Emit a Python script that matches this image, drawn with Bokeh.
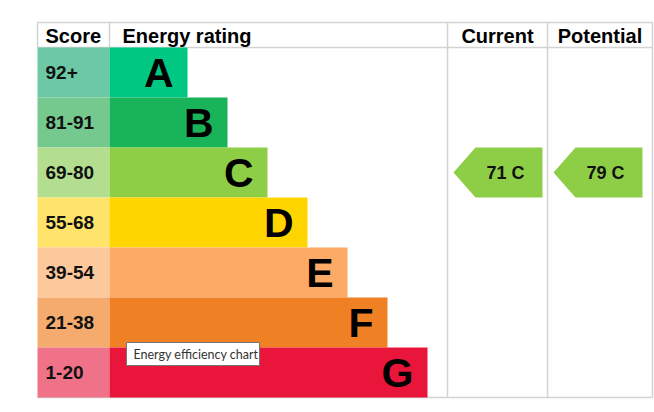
from bokeh.plotting import figure
from bokeh.models import Range1d, ColumnDataSource
from bokeh.core.properties import value
from bokeh.embed import file_html
from bokeh.resources import INLINE

# ---- data ----
ratings = ["A", "B", "C", "D", "E", "F", "G"]
score_labels = ["92+", "81-91", "69-80", "55-68", "39-54", "21-38", "1-20"]
band_min = [92, 81, 69, 55, 39, 21, 1]
bar_colors = ["#00c781", "#19b459", "#8dce46", "#ffd500", "#fcaa65", "#ef8023", "#e9153b"]
score_colors = ["#6dc9a5", "#75c98f", "#b3de8f", "#ffe36b", "#fdc89c", "#f5ab6e", "#f07289"]
headers = ["Score", "Energy rating", "Current", "Potential"]
current_score = 71
potential_score = 79

# ---- layout (pixels) ----
W, H = 654, 404
LEFT, TOP = 37, 22
HEAD_H, ROW_H = 25, 50
SCORE_W = 72
BAR_BASE, BAR_STEP = 78, 40
COL_CUR, COL_POT, RIGHT = 447, 547, 652
FONT = "Liberation Sans"
GRID = "#d3d3d3"

def band_index(score):
    for i, m in enumerate(band_min):
        if score >= m:
            return i
    return len(band_min) - 1

p = figure(width=W, height=H, output_backend="svg", toolbar_location=None,
           x_range=Range1d(0, W), y_range=Range1d(H, 0),
           x_axis_type=None, y_axis_type=None, min_border=0,
           outline_line_color=None)
p.grid.visible = False
p.background_fill_color = "white"
p.border_fill_color = "white"

n = len(ratings)
body_top = TOP + HEAD_H
bottom = body_top + n * ROW_H
score_right = LEFT + SCORE_W

# grid lines
x0s = [LEFT, LEFT, LEFT, LEFT, score_right, COL_CUR, COL_POT, RIGHT]
x1s = [RIGHT, RIGHT, RIGHT, LEFT, score_right, COL_CUR, COL_POT, RIGHT]
y0s = [TOP, body_top, bottom, TOP, TOP, TOP, TOP, TOP]
y1s = [TOP, body_top, bottom, body_top, body_top, bottom, bottom, bottom]
p.segment(x0=x0s, y0=y0s, x1=x1s, y1=y1s, line_color=GRID, line_width=1.5)

# rows
tops = [body_top + i * ROW_H for i in range(n)]
bots = [t + ROW_H for t in tops]
mids = [t + ROW_H / 2 for t in tops]
bar_ends = [score_right + BAR_BASE + BAR_STEP * i for i in range(n)]

src = ColumnDataSource(dict(
    rating=ratings, score=score_labels, top=tops, bottom=bots, mid=mids,
    bar_end=bar_ends, letter_x=[b - 14 for b in bar_ends],
    bar_color=bar_colors, score_color=score_colors,
    sl=[LEFT] * n, sr=[score_right] * n, sx=[LEFT + 8] * n,
))
p.quad(left="sl", right="sr", top="top", bottom="bottom", fill_color="score_color",
       line_color=None, source=src)
p.quad(left="sr", right="bar_end", top="top", bottom="bottom", fill_color="bar_color",
       line_color=None, source=src)
p.text(x="sx", y="mid", text="score", source=src, text_font=value(FONT),
       text_font_style="bold", text_font_size="19px", text_color="#111111",
       text_baseline="middle", text_align="left")
p.text(x="letter_x", y="mid", text="rating", source=src, text_font=value(FONT),
       text_font_style="bold", text_font_size="41px", text_color="#000000",
       text_baseline="middle", text_align="right")

# headers
hy = TOP + HEAD_H / 2 + 1
p.text(x=[LEFT + 8, score_right + 13], y=[hy, hy], text=headers[:2],
       text_font=value(FONT), text_font_style="bold", text_font_size="20px",
       text_color="#000000", text_baseline="middle", text_align="left")
p.text(x=[(COL_CUR + COL_POT) / 2, (COL_POT + RIGHT) / 2], y=[hy, hy], text=headers[2:],
       text_font=value(FONT), text_font_style="bold", text_font_size="20px",
       text_color="#000000", text_baseline="middle", text_align="center")

# arrows
xs, ys, tx, ty, tt, cols = [], [], [], [], [], []
for col, sc in [(COL_CUR, current_score), (COL_POT, potential_score)]:
    i = band_index(sc)
    t, b = tops[i], bots[i]
    tip, rs, re = col + 6, col + 28, col + 95
    xs.append([tip, rs, re, re, rs])
    ys.append([(t + b) / 2, t, t, b, b])
    tx.append((rs + re) / 2 - 1)
    ty.append((t + b) / 2)
    tt.append(f"{sc}  {ratings[i]}")
    cols.append(bar_colors[i])
p.patches(xs=xs, ys=ys, fill_color=cols, line_color=None)
p.text(x=tx, y=ty, text=tt, text_font=value(FONT), text_font_style="bold",
       text_font_size="18px", text_color="#111111", text_baseline="middle",
       text_align="center")

# tooltip
p.quad(left=[126], right=[259], top=[342], bottom=[365], fill_color="white",
       line_color="#767676", line_width=1)
p.text(x=[133], y=[353.5], text=["Energy efficiency chart"], text_font=value("Lato"),
       text_font_size="12.5px", text_color="#333333", text_baseline="middle",
       text_align="left")

open("out.html", "w").write(file_html(p, INLINE))
